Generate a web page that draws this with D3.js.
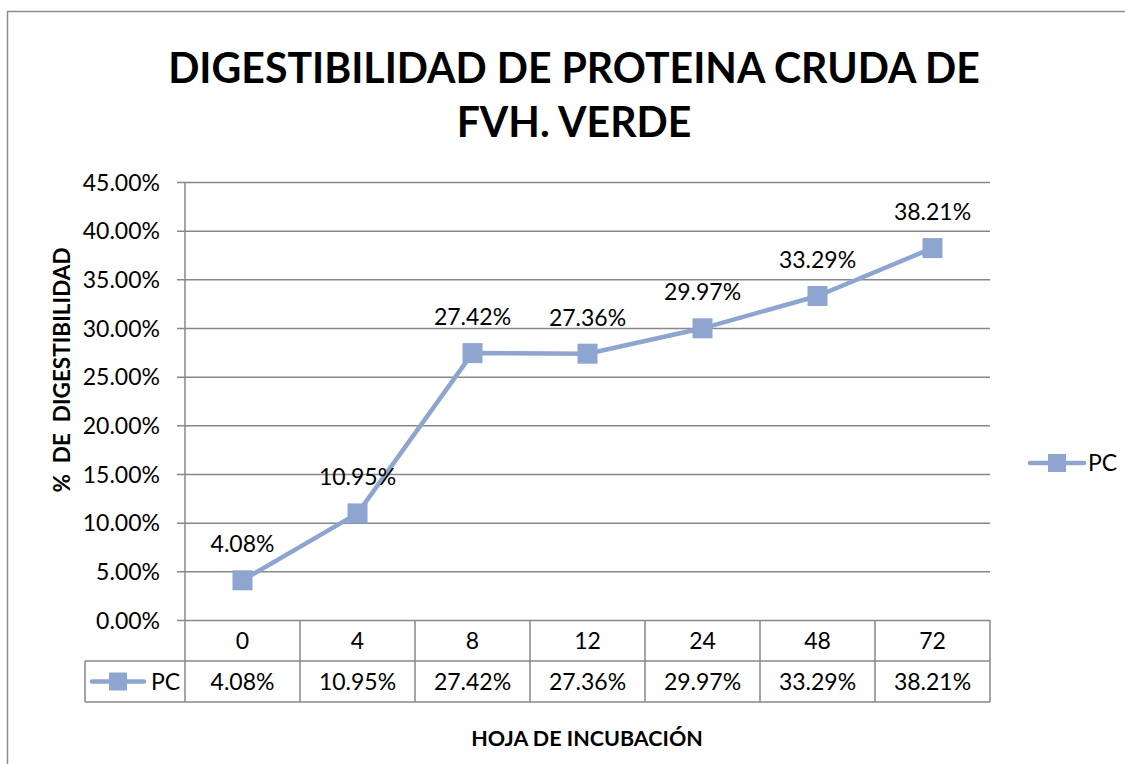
<!DOCTYPE html>
<html>
<head>
<meta charset="utf-8">
<script src="https://cdn.jsdelivr.net/npm/d3@7"></script>
<style>
  body { margin: 0; background: #fff; }
  text { font-family: Lato, "Open Sans", sans-serif; fill: #000; }
</style>
</head>
<body>
<svg id="chart" width="1125" height="764"></svg>
<script>
var hours = ['0', '4', '8', '12', '24', '48', '72'],
    pc = [4.08, 10.95, 27.42, 27.36, 29.97, 33.29, 38.21],
    yTicks = [0, 5, 10, 15, 20, 25, 30, 35, 40, 45],
    seriesName = 'PC',
    titleLines = ['DIGESTIBILIDAD DE PROTEINA CRUDA DE', 'FVH. VERDE'],
    xTitle = 'HOJA DE INCUBACIÓN',
    yTitle = '%  DE  DIGESTIBILIDAD';

(function (){
var lineColor = '#8ea5cf',
    gridColor = '#878787',
    mk = 20,
    pct = function (v){ return v.toFixed(2) + '%'; };

var svg = d3.select('#chart'),
    pLeft = 185, pRight = 990, pTop = 182, pBottom = 620,
    rowH = 41;

var x = d3.scaleBand().domain(hours).range([pLeft, pRight]),
    y = d3.scaleLinear().domain([0, 45]).range([pBottom, pTop]);

// outer chart border
svg.append('rect')
    .attr('x', 7.5).attr('y', 11.5)
    .attr('width', 1130).attr('height', 770)
    .attr('fill', 'none').attr('stroke', '#8c8c8c').attr('stroke-width', 1.5);

// title, scaled to fit the reference width
var title = svg.append('g');
title.selectAll('text')
    .data(titleLines)
    .enter()
    .append('text')
    .attr('x', 574)
    .attr('y', function (d, i){ return 83 + i * 54; })
    .attr('text-anchor', 'middle')
    .style('font-weight', 'bold')
    .style('font-size', '44px')
    .text(function (d){ return d; });
var first = title.select('text').node(),
    fs = 44 * 812 / first.getComputedTextLength();
title.selectAll('text').style('font-size', fs + 'px');

// gridlines with tick stubs
var yAxis = d3.axisLeft(y)
    .tickValues(yTicks)
    .tickSize(-(pRight - pLeft + 8))
    .tickPadding(0)
    .tickFormat(pct);

var gy = svg.append('g')
    .attr('transform', 'translate(' + (pLeft - 8) + ',0)')
    .call(yAxis);
gy.select('.domain').remove();
gy.selectAll('.tick line').attr('stroke', gridColor).attr('stroke-width', 1.5);
gy.selectAll('.tick text')
    .attr('x', -17)
    .attr('dy', '0.35em')
    .style('font-size', '23px')
    .style('font-family', 'Lato, sans-serif')
    .attr('fill', '#000');

// data table grid
var grid = svg.append('g')
    .attr('stroke', gridColor).attr('stroke-width', 1.5).attr('fill', 'none');
grid.append('line').attr('x1', pLeft).attr('x2', pLeft).attr('y1', pTop).attr('y2', pBottom + 2 * rowH);
x.domain().forEach(function (h){
    var xr = x(h) + x.bandwidth();
    grid.append('line').attr('x1', xr).attr('x2', xr).attr('y1', pBottom).attr('y2', pBottom + 2 * rowH);
});
grid.append('line').attr('x1', 85).attr('x2', pRight).attr('y1', pBottom + rowH).attr('y2', pBottom + rowH);
grid.append('line').attr('x1', 85).attr('x2', pRight).attr('y1', pBottom + 2 * rowH).attr('y2', pBottom + 2 * rowH);
grid.append('line').attr('x1', 85).attr('x2', 85).attr('y1', pBottom + rowH).attr('y2', pBottom + 2 * rowH);

// category row and value row
svg.append('g').selectAll('text')
    .data(hours)
    .enter()
    .append('text')
    .attr('x', function (d){ return x(d) + x.bandwidth() / 2; })
    .attr('y', pBottom + rowH / 2)
    .attr('dy', '0.35em')
    .attr('text-anchor', 'middle')
    .style('font-size', '23px')
    .text(function (d){ return d; });

svg.append('g').selectAll('text')
    .data(pc)
    .enter()
    .append('text')
    .attr('x', function (d, i){ return x(hours[i]) + x.bandwidth() / 2; })
    .attr('y', pBottom + rowH * 1.5)
    .attr('dy', '0.35em')
    .attr('text-anchor', 'middle')
    .style('font-size', '23px')
    .text(pct);

// legend key, used in the table and at the right
function legendKey(g, x0, x1, cy){
    g.append('line')
        .attr('x1', x0).attr('x2', x1).attr('y1', cy).attr('y2', cy)
        .attr('stroke', lineColor).attr('stroke-width', 4.5).attr('stroke-linecap', 'round');
    g.append('rect')
        .attr('x', (x0 + x1) / 2 - 9).attr('y', cy - 9)
        .attr('width', 18).attr('height', 18)
        .attr('fill', lineColor);
}
var tblKey = svg.append('g');
legendKey(tblKey, 92, 144, pBottom + rowH * 1.5);
tblKey.append('text')
    .attr('x', 151).attr('y', pBottom + rowH * 1.5).attr('dy', '0.35em')
    .style('font-size', '23px').text(seriesName);

var legend = svg.append('g');
legendKey(legend, 1030, 1084, 463);
legend.append('text')
    .attr('x', 1088).attr('y', 463).attr('dy', '0.35em')
    .style('font-size', '23px').text(seriesName);

// series line, markers and labels
var line = d3.line()
    .x(function (d, i){ return x(hours[i]) + x.bandwidth() / 2; })
    .y(function (d){ return y(d); });

svg.append('path')
    .datum(pc)
    .attr('d', line)
    .attr('fill', 'none')
    .attr('stroke', lineColor)
    .attr('stroke-width', 4.5)
    .attr('stroke-linejoin', 'round');

svg.append('g').selectAll('rect')
    .data(pc)
    .enter()
    .append('rect')
    .attr('x', function (d, i){ return x(hours[i]) + x.bandwidth() / 2 - mk / 2; })
    .attr('y', function (d){ return y(d) - mk / 2; })
    .attr('width', mk).attr('height', mk)
    .attr('fill', lineColor);

svg.append('g').selectAll('text')
    .data(pc)
    .enter()
    .append('text')
    .attr('x', function (d, i){ return x(hours[i]) + x.bandwidth() / 2; })
    .attr('y', function (d){ return y(d) - 36; })
    .attr('dy', '0.35em')
    .attr('text-anchor', 'middle')
    .style('font-size', '23px')
    .text(pct);

// axis titles
svg.append('text')
    .attr('x', 587).attr('y', 738).attr('dy', '0.35em')
    .attr('text-anchor', 'middle')
    .style('font-weight', 'bold').style('font-size', '21.5px')
    .text(xTitle);

svg.append('text')
    .attr('transform', 'translate(62,370) rotate(-90)')
    .attr('dy', '0.35em')
    .attr('text-anchor', 'middle')
    .style('white-space', 'pre')
    .style('font-weight', 'bold').style('font-size', '22.5px')
    .text(yTitle);
})();
</script>
</body>
</html>
